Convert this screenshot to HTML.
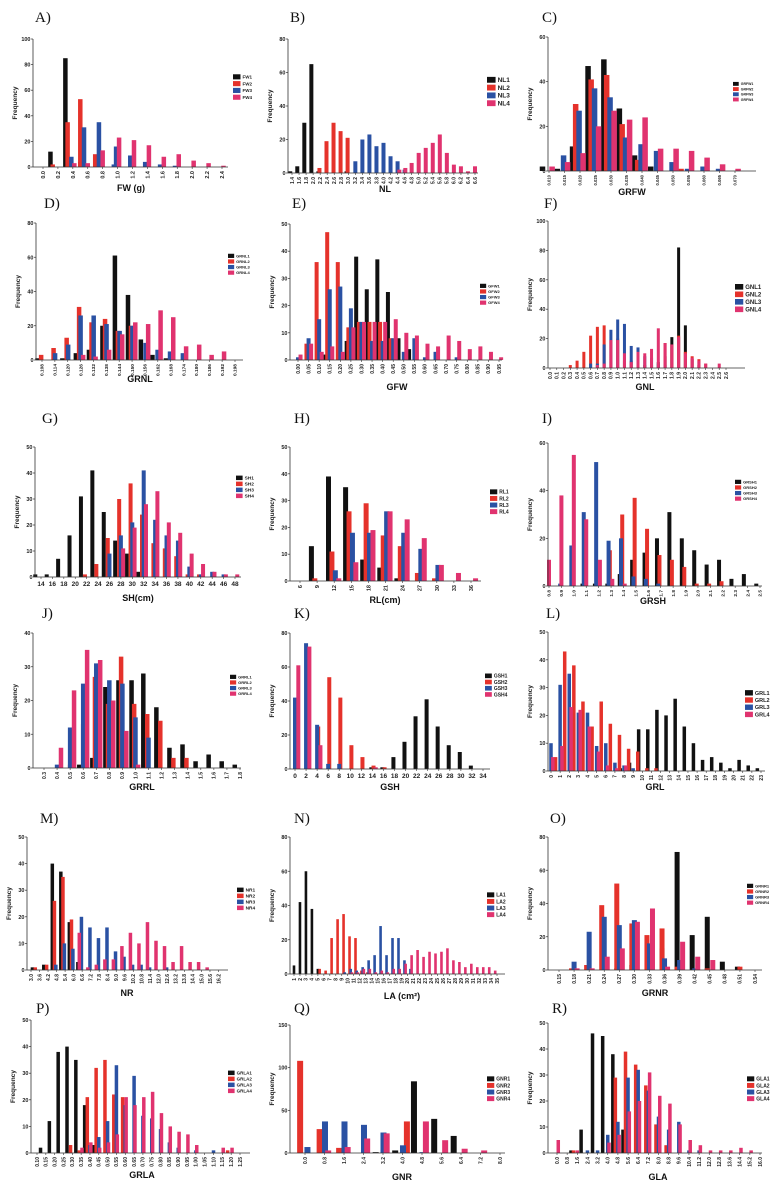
<!DOCTYPE html>
<html><head><meta charset="utf-8"><style>
html,body{margin:0;padding:0;background:#fff;}
svg{display:block;font-family:"Liberation Sans",Arial,sans-serif;}
.tk{font-size:5.5px;font-weight:bold;fill:#222;}
.yt{font-size:6.5px;font-weight:bold;fill:#222;}
.xt{font-size:9px;font-weight:bold;fill:#111;}
.pl{font-family:"Liberation Serif",serif;font-size:15px;fill:#111;}
</style></head><body>
<svg id="fig" width="782" height="1187" viewBox="0 0 782 1187"></svg>
<script>
function rng(a,b,s,d){const o=[];const n=Math.round((b-a)/s);for(let i=0;i<=n;i++)o.push((a+i*s).toFixed(d));return o;}
// ---- data ----
const A_ticks=rng(0,2.4,0.2,1);
const A_s1=[[0.1,12],[0.3,85],[0.5,4]];
const A_s2=[[0.13,2],[0.33,35],[0.5,53],[0.7,10]];
const A_s3=[[0.38,8],[0.55,31],[0.75,35],[0.95,2],[0.98,16],[1.17,9],[1.37,4],[1.57,2],[1.77,1]];
const A_s4=[[0.42,3],[0.6,3],[0.8,13],[1.02,23],[1.22,21],[1.42,17],[1.62,8],[1.82,10],[2.02,5],[2.22,3],[2.42,1]];
const B_ticks=rng(1.4,6.6,0.2,1);
const B_s1=[[1.35,1],[1.55,4],[1.75,30],[1.95,65],[2.15,1],[2.95,1]];
const B_s2=[[2.18,3],[2.38,19],[2.58,30],[2.78,25],[2.98,21]];
const B_s3=[[3.2,7],[3.4,20],[3.6,23],[3.8,16],[4.0,18],[4.2,10],[4.4,7],[4.6,2]];
const B_s4=[[4.45,2],[4.62,3],[4.8,6],[5.0,12],[5.2,15],[5.4,18],[5.6,23],[5.8,12],[6.0,5],[6.2,4],[6.4,1],[6.6,4]];
const C_ticks=rng(0.010,0.070,0.005,3);
const C_s1=[[0.0079,2],[0.0127,1],[0.0176,11],[0.0226,47],[0.0277,50],[0.0327,28],[0.0376,7],[0.0428,2]];
const C_s2=[[0.0186,30],[0.0236,41],[0.0286,43],[0.0336,21],[0.0386,5],[0.0454,1],[0.0526,1]];
const C_s3=[[0.0147,7],[0.0197,27],[0.0247,37],[0.0297,33],[0.0347,15],[0.0397,12],[0.0447,9],[0.0497,4],[0.0547,1],[0.0597,2],[0.0647,1]];
const C_s4=[[0.011,2],[0.016,4],[0.021,8],[0.026,20],[0.031,27],[0.036,23],[0.041,24],[0.046,10],[0.051,10],[0.056,9],[0.061,6],[0.066,3],[0.071,1]];
const D_ticks=rng(0.108,0.198,0.006,3);
const D_s1=[[0.1059,1],[0.1175,1],[0.1238,4],[0.1299,6],[0.1362,20],[0.1420,61],[0.1481,38],[0.1541,12],[0.1595,3],[0.1658,1]];
const D_s2=[[0.1076,3],[0.1134,7],[0.1195,13],[0.1253,31],[0.1311,22],[0.1374,24],[0.1434,17],[0.1495,20]];
const D_s3=[[0.1141,4],[0.1202,9],[0.1260,26],[0.1321,26],[0.1381,21],[0.1442,17],[0.1502,20],[0.1563,10],[0.1619,6],[0.1677,5],[0.1737,4]];
const D_s4=[[0.1272,3],[0.1330,2],[0.1393,6],[0.1454,15],[0.1515,22],[0.1575,21],[0.1633,29],[0.1692,25],[0.1752,8],[0.1813,9],[0.1871,3],[0.1929,5]];
const E_ticks=rng(0,0.95,0.05,2);
const E_s1=[[0.13,2],[0.23,7],[0.275,38],[0.325,26],[0.375,37],[0.425,25],[0.475,8],[0.525,4]];
const E_s2=[[0.04,6],[0.088,36],[0.138,47],[0.188,36],[0.238,12],[0.288,14],[0.338,14],[0.388,14],[0.438,8]];
const E_s3=[[0.0,1],[0.05,8],[0.1,15],[0.15,26],[0.2,27],[0.25,19],[0.3,14],[0.35,7],[0.4,7],[0.45,8],[0.5,3],[0.55,8],[0.6,1],[0.65,3],[0.75,1]];
const E_s4=[[0.012,2],[0.062,6],[0.112,3],[0.162,5],[0.212,3],[0.262,12],[0.312,14],[0.362,14],[0.412,14],[0.462,15],[0.512,10],[0.562,9],[0.612,6],[0.662,5],[0.712,9],[0.762,7],[0.812,4],[0.862,5],[0.912,3],[0.96,1]];
const F_ticks=rng(0,2.6,0.1,1);
const F_s1=[[1.4,2],[1.5,2],[1.6,4],[1.7,8],[1.8,21],[1.9,82],[2.0,29],[2.1,6],[2.2,2]];
const F_s2=[[0.3,2],[0.4,5],[0.5,11],[0.6,22],[0.7,28],[0.8,29],[0.9,19],[1.0,20],[1.1,5],[1.2,5],[1.7,17],[1.8,16],[1.9,22],[2.0,11],[2.1,8],[2.2,6],[2.3,3]];
const F_s3=[[0.6,3],[0.7,3],[0.8,16],[0.9,26],[1.0,33],[1.1,30],[1.2,15],[1.3,14],[1.4,8],[1.5,7],[1.6,3],[1.7,2]];
const F_s4=[[0.7,2],[0.8,3],[0.9,19],[1.0,19],[1.1,10],[1.2,4],[1.3,11],[1.4,10],[1.5,13],[1.6,27],[1.7,17],[1.8,16],[1.9,21],[2.0,10],[2.1,7],[2.2,5],[2.3,3],[2.5,3]];
const G_ticks=rng(14,48,2,0);
const G_s1=[[13,1],[15,1],[17,7],[19,16],[21,31],[23,41],[25,25],[27,14],[29,9],[31,2]];
const G_s2=[[21.7,1],[23.7,5],[25.7,15],[27.7,30],[29.7,36],[31.7,24],[33.7,13],[35.7,11],[37.7,8],[39.7,1],[41.7,1]];
const G_s3=[[26,9],[28,16],[30,21],[32,41],[34,22],[36,16],[38,14],[40,4],[42,1],[44,2],[46,1]];
const G_s4=[[28.4,11],[30.4,19],[32.4,28],[34.4,33],[36.4,21],[38.4,17],[40.4,9],[42.4,5],[44.4,2],[46.4,1],[48.4,1]];
const H_ticks=rng(6,36,3,0);
const H_s1=[[8,13],[11,39],[14,35],[17,8],[20,5],[23,1]];
const H_s2=[[8.6,1],[11.6,11],[14.6,26],[17.6,29],[20.6,17],[23.6,13],[26.6,3],[29.6,1]];
const H_s3=[[12.2,4],[15.2,18],[18.2,18],[21.2,26],[24.2,18],[27.2,12],[30.2,6]];
const H_s4=[[12.8,1],[15.8,7],[18.8,19],[21.8,26],[24.8,23],[27.8,16],[30.8,6],[33.8,3],[36.8,1]];
const I_ticks=rng(0.8,2.5,0.1,1);
const I_s1=[[1.07,1],[1.17,1],[1.27,1],[1.37,5],[1.47,11],[1.57,14],[1.67,20],[1.77,31],[1.87,20],[1.97,15],[2.07,9],[2.17,11],[2.27,3],[2.37,5],[2.47,1]];
const I_s2=[[1.2,5],[1.29,15],[1.39,30],[1.49,37],[1.59,24],[1.69,13],[1.79,11],[1.89,8],[1.99,1],[2.09,1],[2.19,2]];
const I_s3=[[0.89,1],[0.98,17],[1.08,31],[1.18,52],[1.28,19],[1.38,20],[1.48,4],[1.58,3],[1.68,1]];
const I_s4=[[0.8,11],[0.9,38],[1.0,55],[1.1,28],[1.21,11],[1.31,3],[1.41,1]];
const J_ticks=rng(0.3,1.8,0.1,1);
const J_s1=[[0.57,1],[0.67,3],[0.77,24],[0.87,26],[0.97,26],[1.06,28],[1.16,18],[1.26,6],[1.36,7],[1.46,2],[1.56,4],[1.66,2],[1.76,1]];
const J_s2=[[0.5,1],[0.6,13],[0.69,27],[0.79,19],[0.89,33],[0.99,19],[1.09,16],[1.19,14],[1.29,3],[1.39,3]];
const J_s3=[[0.4,1],[0.5,12],[0.6,25],[0.7,31],[0.8,26],[0.9,25],[1.0,15],[1.1,9]];
const J_s4=[[0.43,6],[0.53,23],[0.63,35],[0.73,32],[0.83,20],[0.93,11],[1.02,1]];
const K_ticks=rng(0,34,2,0);
const K_s1=[[13.8,1],[15.8,1],[17.8,7],[19.8,16],[21.8,31],[23.8,41],[25.8,25],[27.8,14],[29.8,10],[31.8,2]];
const K_s2=[[2.2,3],[4.2,25],[6.2,54],[8.2,42],[10.2,14],[12.2,7],[14.2,2],[16.2,1]];
const K_s3=[[0,42],[2,74],[4,26],[6,3],[8,3]];
const K_s4=[[0.6,61],[2.6,72],[4.6,14],[14.6,1]];
const L_ticks=rng(0,23,1,0);
const L_s1=[[7.6,1],[8.6,3],[9.6,15],[10.6,15],[11.6,22],[12.6,20],[13.6,26],[14.6,16],[15.6,10],[16.6,4],[17.6,5],[18.6,3],[19.6,1],[20.6,4],[21.6,2],[22.6,1]];
const L_s2=[[0.5,5],[1.5,43],[2.5,38],[3.5,25],[4.5,16],[5.5,25],[6.5,17],[7.5,13],[8.5,8],[9.5,7],[10.5,1],[11.5,1]];
const L_s3=[[0,10],[1,31],[2,35],[3,21],[4,21],[5,9],[6,10],[7,3],[8,2],[9,1]];
const L_s4=[[0.2,5],[1.2,9],[2.2,23],[3.2,22],[4.2,16],[5.2,7],[6.2,2],[7.2,1],[8.2,2]];
const M_ticks=rng(3.0,16.2,0.6,1);
const M_s1=[[3.1,1],[3.9,2],[4.5,40],[5.1,37],[5.7,18],[6.3,3]];
const M_s2=[[3.3,1],[4.1,2],[4.65,26],[5.25,35],[5.85,19],[6.45,1]];
const M_s3=[[4.75,2],[5.35,10],[5.95,8],[6.55,20],[7.15,16],[7.75,12],[8.35,16],[8.95,7],[9.55,5],[10.15,2],[10.75,2],[11.35,1],[12.55,1]];
const M_s4=[[6.4,14],[7.0,1],[7.6,2],[8.2,4],[8.8,4],[9.4,9],[10.0,14],[10.6,10],[11.2,18],[11.8,11],[12.4,9],[13.0,3],[13.6,9],[14.2,3],[14.8,3],[15.4,1]];
const N_ticks=rng(1,35,1,0);
const N_s1=[[1,5],[2,42],[3,60],[4,38],[5,3]];
const N_s2=[[5.3,3],[6.3,2],[7.3,21],[8.3,32],[9.3,35],[10.3,22],[11.3,21],[12.3,2],[13.3,1]];
const N_s3=[[9.5,1],[10.5,3],[11.5,2],[12.5,4],[13.5,8],[14.5,11],[15.5,28],[16.5,11],[17.5,21],[18.5,21],[19.5,8],[20.5,3]];
const N_s4=[[10.7,1],[11.7,1],[12.7,3],[13.7,3],[14.7,1],[15.7,2],[16.7,1],[17.7,3],[18.7,3],[19.7,6],[20.7,11],[21.7,14],[22.7,10],[23.7,13],[24.7,12],[25.7,13],[26.7,15],[27.7,8],[28.7,7],[29.7,4],[30.7,6],[31.7,4],[32.7,4],[33.7,4],[34.7,2]];
const O_ticks=rng(0.15,0.54,0.03,2);
const O_s1=[[0.265,1],[0.295,3],[0.355,13],[0.385,71],[0.415,21],[0.445,32],[0.475,5],[0.505,2]];
const O_s2=[[0.175,1],[0.205,3],[0.235,39],[0.265,52],[0.295,28],[0.325,21],[0.355,25],[0.385,2],[0.445,1],[0.51,2]];
const O_s3=[[0.18,5],[0.21,23],[0.24,32],[0.27,27],[0.30,30],[0.33,16],[0.36,7],[0.39,6],[0.42,1]];
const O_s4=[[0.186,1],[0.216,1],[0.246,8],[0.276,13],[0.306,29],[0.336,37],[0.366,2],[0.396,17],[0.426,8],[0.456,6]];
const P_ticks=rng(0.10,1.25,0.05,2);
const P_s1=[[0.12,2],[0.17,12],[0.22,38],[0.27,40],[0.32,35],[0.37,18],[0.42,3]];
const P_s2=[[0.29,3],[0.34,1],[0.385,21],[0.435,32],[0.485,35],[0.535,22],[0.585,21],[1.18,1]];
const P_s3=[[0.40,3],[0.45,6],[0.50,12],[0.55,33],[0.60,18],[0.65,29],[0.70,14],[0.75,13],[0.80,9],[0.85,4],[0.90,2],[1.00,1],[1.10,1]];
const P_s4=[[0.355,2],[0.405,4],[0.455,2],[0.505,4],[0.555,7],[0.605,21],[0.655,18],[0.705,21],[0.755,23],[0.805,15],[0.855,10],[0.905,8],[0.955,7],[1.005,3],[1.155,2],[1.205,2]];
const Q_ticks=rng(0,8,0.8,1);
const Q_s1=[[2.9,1],[3.7,3],[4.47,84],[5.3,40],[6.1,20]];
const Q_s2=[[-0.2,108],[0.6,28],[1.4,6],[4.18,37]];
const Q_s3=[[0.1,7],[0.82,37],[1.62,37],[2.42,33],[3.22,24],[4.02,9],[4.82,1]];
const Q_s4=[[0.95,3],[1.75,7],[2.55,17],[3.35,23],[4.96,37],[5.75,15],[6.55,5],[7.35,3]];
const R_ticks=rng(0,16,0.8,1);
const R_s1=[[1.1,1],[1.9,9],[2.8,46],[3.6,45],[4.4,38],[5.2,9]];
const R_s2=[[1.3,1],[4.6,29],[5.4,39],[6.2,34],[7.0,26],[7.8,11],[8.6,3]];
const R_s3=[[2.4,1],[3.2,1],[4.0,7],[4.8,12],[5.6,29],[6.4,32],[7.2,24],[8.0,14],[8.8,9],[9.6,12],[10.4,1],[11.2,1]];
const R_s4=[[0.1,5],[1.6,1],[4.1,4],[4.9,7],[5.7,16],[6.5,20],[7.3,31],[8.1,22],[8.9,19],[9.7,11],[10.5,5],[11.3,3],[12.1,1],[12.9,1],[13.7,1],[14.5,2],[15.3,1]];

const COLORS=['#111111','#e5322b','#2a51a3','#e0336f'];
const P=[
{id:'A',lab:[35,22],x0:33,x1:228,t:[0,43,2.4,222],yz:167,yt:39,ymax:100,ys:20,ticks:A_ticks,rot:1,title:'FW (g)',tp:[131,191],leg:[233,77,6.8,4.5],names:['FW1','FW2','FW3','FW4'],s:[A_s1,A_s2,A_s3,A_s4],bw:4.5,tf:5.5},
{id:'B',lab:[290,22],x0:288,x1:478,t:[1.4,292,6.6,475],yz:173,yt:39,ymax:80,ys:20,ticks:B_ticks,rot:1,title:'NL',tp:[385,192],leg:[487,80,7.8,6.5],names:['NL1','NL2','NL3','NL4'],s:[B_s1,B_s2,B_s3,B_s4],bw:4,tf:5},
{id:'C',lab:[542,22],x0:548,x1:756,t:[0.010,549,0.070,735],yz:171,yt:37,ymax:60,ys:20,ticks:C_ticks,rot:1,title:'GRFW',tp:[632,195],leg:[733,84,5.2,3.5],names:['GRFW1','GRFW2','GRFW3','GRFW4'],s:[C_s1,C_s2,C_s3,C_s4],bw:5.5,tf:4.2},
{id:'D',lab:[44,208],x0:36,x1:243,t:[0.108,42,0.198,235],yz:360,yt:223,ymax:80,ys:20,ticks:D_ticks,rot:1,title:'GRNL',tp:[140,382],leg:[228,256,5.6,4],names:['GRNL1','GRNL2','GRNL3','GRNL4'],s:[D_s1,D_s2,D_s3,D_s4],bw:4.5,tf:4.8},
{id:'E',lab:[292,208],x0:290,x1:502,t:[0,298,0.95,499],yz:360,yt:224,ymax:50,ys:10,ticks:E_ticks,rot:1,title:'GFW',tp:[397,390],leg:[480,286,5.6,4],names:['GFW1','GFW2','GFW3','GFW4'],s:[E_s1,E_s2,E_s3,E_s4],bw:4,tf:5},
{id:'F',lab:[544,208],x0:548,x1:745,t:[0,550,2.6,726],yz:368,yt:221,ymax:100,ys:20,ticks:F_ticks,rot:1,title:'GNL',tp:[645,390],leg:[735,287,7.5,6],names:['GNL1','GNL2','GNL3','GNL4'],s:[F_s1,F_s2,F_s3,F_s4],bw:3,tf:5},
{id:'G',lab:[42,423],x0:35,x1:241,t:[14,41,48,235],yz:577,yt:447,ymax:50,ys:10,ticks:G_ticks,rot:0,title:'SH(cm)',tp:[138,601],leg:[236,478,6,4.8],names:['SH1','SH2','SH3','SH4'],s:[G_s1,G_s2,G_s3,G_s4],bw:4,tf:6.5},
{id:'H',lab:[294,423],x0:290,x1:481,t:[6,300,36,471],yz:581,yt:447,ymax:50,ys:10,ticks:H_ticks,rot:1,title:'RL(cm)',tp:[385,603],leg:[490,492,6.6,5],names:['RL1','RL2','RL3','RL4'],s:[H_s1,H_s2,H_s3,H_s4],bw:5,tf:5.5},
{id:'I',lab:[542,423],x0:548,x1:762,t:[0.8,549,2.5,760],yz:586,yt:443,ymax:60,ys:20,ticks:I_ticks,rot:1,title:'GRSH',tp:[653,604],leg:[735,482,5.6,4],names:['GRSH1','GRSH2','GRSH3','GRSH4'],s:[I_s1,I_s2,I_s3,I_s4],bw:4,tf:4.8},
{id:'J',lab:[42,618],x0:33,x1:241,t:[0.3,44,1.8,240],yz:768,yt:633,ymax:40,ys:10,ticks:J_ticks,rot:1,title:'GRRL',tp:[142,790],leg:[230,677,5.6,4],names:['GRRL1','GRRL2','GRRL3','GRRL4'],s:[J_s1,J_s2,J_s3,J_s4],bw:4.5,tf:5},
{id:'K',lab:[294,618],x0:290,x1:490,t:[0,295,34,483],yz:769,yt:633,ymax:80,ys:20,ticks:K_ticks,rot:0,title:'GSH',tp:[390,790],leg:[485,676,6.2,5],names:['GSH1','GSH2','GSH3','GSH4'],s:[K_s1,K_s2,K_s3,K_s4],bw:4,tf:6.5},
{id:'L',lab:[546,618],x0:548,x1:765,t:[0,551,23,761],yz:771,yt:632,ymax:50,ys:10,ticks:L_ticks,rot:1,title:'GRL',tp:[655,790],leg:[745,693,7.2,5.5],names:['GRL1','GRL2','GRL3','GRL4'],s:[L_s1,L_s2,L_s3,L_s4],bw:3.5,tf:5},
{id:'M',lab:[40,823],x0:27,x1:228,t:[3.0,31,16.2,218.5],yz:970,yt:837,ymax:50,ys:10,ticks:M_ticks,rot:1,title:'NR',tp:[127,996],leg:[237,890,6,4.8],names:['NR1','NR2','NR3','NR4'],s:[M_s1,M_s2,M_s3,M_s4],bw:3.5,tf:5},
{id:'N',lab:[294,823],x0:290,x1:505,t:[1,294,35,497],yz:974,yt:837,ymax:80,ys:20,ticks:N_ticks,rot:1,title:'LA (cm²)',tp:[402,999],leg:[487,895,6.6,5],names:['LA1','LA2','LA3','LA4'],s:[N_s1,N_s2,N_s3,N_s4],bw:2.6,tf:5},
{id:'O',lab:[550,823],x0:548,x1:762,t:[0.15,559,0.54,755],yz:970,yt:837,ymax:80,ys:20,ticks:O_ticks,rot:1,title:'GRNR',tp:[655,996],leg:[747,886,5.6,4],names:['GRNR1','GRNR2','GRNR3','GRNR4'],s:[O_s1,O_s2,O_s3,O_s4],bw:5,tf:5},
{id:'P',lab:[36,1013],x0:31,x1:250,t:[0.10,37,1.25,240],yz:1153,yt:1020,ymax:50,ys:10,ticks:P_ticks,rot:1,title:'GRLA',tp:[142,1178],leg:[228,1073,6,4.5],names:['GRLA1','GRLA2','GRLA3','GRLA4'],s:[P_s1,P_s2,P_s3,P_s4],bw:3.5,tf:5},
{id:'Q',lab:[294,1013],x0:290,x1:505,t:[0,305,8,500],yz:1153,yt:1025,ymax:150,ys:50,ticks:Q_ticks,rot:1,title:'GNR',tp:[402,1180],leg:[487,1079,6.6,5],names:['GNR1','GNR2','GNR3','GNR4'],s:[Q_s1,Q_s2,Q_s3,Q_s4],bw:6,tf:5},
{id:'R',lab:[552,1013],x0:548,x1:762,t:[0,557,16,760],yz:1153,yt:1023,ymax:50,ys:10,ticks:R_ticks,rot:1,title:'GLA',tp:[658,1180],leg:[747,1079,6.6,5],names:['GLA1','GLA2','GLA3','GLA4'],s:[R_s1,R_s2,R_s3,R_s4],bw:3.5,tf:5}
];
const NS='http://www.w3.org/2000/svg';
const svg=document.getElementById('fig');
function mk(tag,attrs,parent,txt){const e=document.createElementNS(NS,tag);for(const k in attrs)e.setAttribute(k,attrs[k]);if(txt!==undefined)e.textContent=txt;parent.appendChild(e);return e;}
P.forEach(p=>{
  const g=mk('g',{},svg);
  
  
  const xs=v=>p.t[1]+(v-p.t[0])*(p.t[3]-p.t[1])/(p.t[2]-p.t[0]);
  const ys=v=>p.yz-v/p.ymax*(p.yz-p.yt);
  const lb=mk('text',{x:p.lab[0],y:p.lab[1],class:'pl'},g,p.id+')');
  
  
  p.s.forEach((ser,si)=>{
    ser.forEach(([xv,yv])=>{
      const r=mk('rect',{x:(xs(xv)-p.bw/2).toFixed(2),y:ys(yv).toFixed(2),width:p.bw,height:(p.yz-ys(yv)).toFixed(2),fill:COLORS[si]},g);
      
      
    });
  });
  const ya=mk('line',{x1:p.x0,y1:p.yt,x2:p.x0,y2:p.yz,stroke:'#333','stroke-width':0.8},g);
  
  
  const xa=mk('line',{x1:p.x0,y1:p.yz,x2:p.x1,y2:p.yz,stroke:'#333','stroke-width':0.8},g);
  
  
  for(let v=0;v<=p.ymax+1e-9;v+=p.ys){
    mk('line',{x1:p.x0-2,y1:ys(v),x2:p.x0,y2:ys(v),stroke:'#333','stroke-width':0.7},g);
    const t=mk('text',{x:p.x0-2.5,y:ys(v)+2,class:'tk','text-anchor':'end'},g,String(v));
    
    
  }
  p.ticks.forEach(s=>{
    const x=xs(parseFloat(s));
    mk('line',{x1:x,y1:p.yz,x2:x,y2:p.yz+2,stroke:'#333','stroke-width':0.6},g);
    let t;
    if(p.rot){t=mk('text',{x:x+p.tf*0.36,y:p.yz+4,class:'tk','text-anchor':'end',style:`font-size:${p.tf}px`,transform:`rotate(-90 ${x+p.tf*0.36} ${p.yz+4})`},g,s);}
    else{t=mk('text',{x:x,y:p.yz+9,class:'tk','text-anchor':'middle',style:`font-size:${p.tf}px`},g,s);}
    
    
  });
  const yc=(p.yt+p.yz)/2, yx=p.x0-16;
  const yt=mk('text',{x:yx,y:yc,class:'yt','text-anchor':'middle',transform:`rotate(-90 ${yx} ${yc})`},g,'Frequency');
  
  
  const xt=mk('text',{x:p.tp[0],y:p.tp[1],class:'xt','text-anchor':'middle'},g,p.title);
  
  
  const [lx,ly,step,fs]=p.leg;
  p.names.forEach((n,i)=>{
    const y=ly+i*step;
    const sw=mk('rect',{x:lx,y:y-step*0.4,width:step*1.1,height:step*0.75,fill:COLORS[i]},g);
    
    
    const lt=mk('text',{x:lx+step*1.1+2,y:y+fs*0.33,style:`font-size:${fs}px;font-weight:bold`,fill:'#222'},g,n);
    
    
  });
});
</script>
</body></html>
